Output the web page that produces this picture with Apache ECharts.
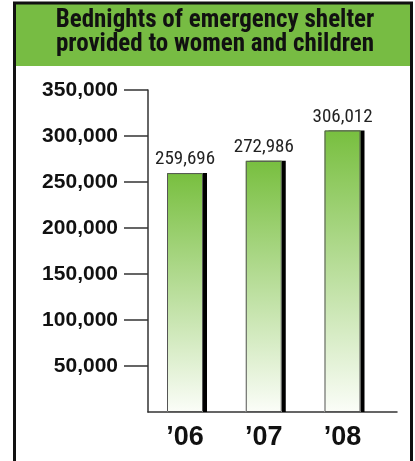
<!DOCTYPE html>
<html>
<head>
<meta charset="utf-8">
<script src="https://cdn.jsdelivr.net/npm/echarts@6/dist/echarts.min.js"></script>
<style>
html,body{margin:0;padding:0;background:#fff;}
#chart{width:415px;height:461px;}
</style>
</head>
<body>
<div id="chart"></div>
<script>
const titleLines = ['Bednights of emergency shelter', 'provided to women and children'];
const categories = ['\u201906', '\u201907', '\u201908'];
const values = [259696, 272986, 306012];
const yTicks = [50000, 100000, 150000, 200000, 250000, 300000, 350000];

const chart = echarts.init(document.getElementById('chart'));
const fmt = v => Math.round(v).toLocaleString('en-US');
const barData = values.map((v, i) => [i, v]);

chart.setOption({
  animation: false,
  backgroundColor: '#ffffff',
  graphic: [
    { type: 'rect', z: -10, shape: { x: 16, y: 4, width: 394, height: 62 }, style: { fill: '#77bc43' } },
    { type: 'rect', z: 100, shape: { x: 14.5, y: 3, width: 397, height: 480 }, style: { fill: 'none', stroke: '#111', lineWidth: 3 } }
  ],
  title: {
    text: titleLines.join('\n'),
    left: 215,
    top: 9,
    textAlign: 'center',
    padding: 0,
    textStyle: {
      fontFamily: '"Roboto Condensed", "Liberation Sans", sans-serif',
      fontWeight: 'bold',
      fontSize: 25,
      lineHeight: 24,
      color: '#111'
    }
  },
  grid: { left: 148, top: 90, width: 249, height: 322, containLabel: false },
  xAxis: {
    type: 'value',
    min: -0.47,
    max: 2.692,
    splitLine: { show: false },
    axisLine: { show: true, onZero: false, lineStyle: { color: '#333', width: 1.5 } },
    axisTick: { show: false },
    axisLabel: {
      customValues: [0, 1, 2],
      formatter: v => categories[Math.round(v)],
      margin: 12,
      fontFamily: '"Liberation Sans", Arial, sans-serif',
      fontWeight: 'bold',
      fontSize: 27,
      color: '#111'
    }
  },
  yAxis: {
    type: 'value',
    min: 0,
    max: 350000,
    interval: 50000,
    splitLine: { show: false },
    axisLine: { show: true, onZero: false, lineStyle: { color: '#333', width: 1.5 } },
    axisTick: { show: true, customValues: yTicks, length: 24, lineStyle: { color: '#333', width: 1.5 } },
    axisLabel: {
      customValues: yTicks,
      formatter: fmt,
      margin: 30,
      fontFamily: '"Liberation Sans", Arial, sans-serif',
      fontWeight: 'bold',
      fontSize: 21,
      color: '#111'
    }
  },
  series: [{
    type: 'bar',
    data: barData,
    barWidth: 36,
    barGap: '-100%',
    itemStyle: {
      color: new echarts.graphic.LinearGradient(0, 0, 0, 1, [
        { offset: 0, color: '#78bf3f' },
        { offset: 1, color: '#fbfdf8' }
      ]),
      borderWidth: 0,
      shadowColor: '#000',
      shadowBlur: 0,
      shadowOffsetX: 4,
      shadowOffsetY: 0
    },
    label: {
      show: true,
      position: 'top',
      distance: 4,
      formatter: p => fmt(p.value[1]),
      fontFamily: '"Roboto Condensed", "Liberation Sans", sans-serif',
      fontSize: 19,
      color: '#222'
    }
  }, {
    type: 'bar',
    data: barData,
    barWidth: 36,
    barGap: '-100%',
    silent: true,
    itemStyle: {
      color: 'rgba(0,0,0,0)',
      borderColor: '#555',
      borderWidth: 1
    },
    label: { show: false }
  }]
});
</script>
</body>
</html>
